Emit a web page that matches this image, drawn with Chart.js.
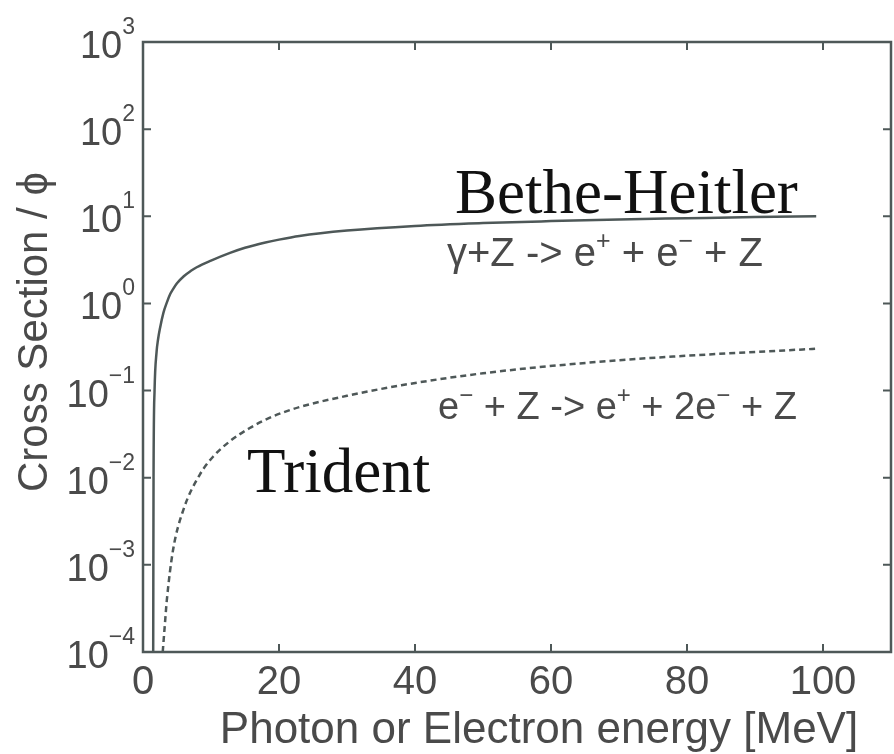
<!DOCTYPE html>
<html>
<head>
<meta charset="utf-8">
<title>Cross Section vs Energy</title>
<script src="https://cdn.jsdelivr.net/npm/chart.js@4.4.1/dist/chart.umd.min.js"></script>
<style>
    body { margin: 0; background: #ffffff; }
    #chart_box { width: 894px; height: 754px; }
</style>
</head>
<body>
<div id="chart_box"><canvas id="xsec_chart"></canvas></div>
<script>
// values (energy in MeV, cross section / phi)
var energyBH = [1.5, 1.55, 1.7, 2.0, 2.2, 2.5, 3.0, 3.5, 4.0, 4.4, 5, 6, 7, 7.9, 10, 12.8, 15, 18, 20, 23, 30, 40, 50, 60, 70, 80, 90, 99];
var sigmaBH = [1e-4, 0.01, 0.1, 0.28, 0.38, 0.52, 0.78, 1.02, 1.28, 1.45, 1.7, 2.05, 2.35, 2.6, 3.1, 3.8, 4.35, 5.0, 5.4, 5.95, 6.85, 7.75, 8.35, 8.8, 9.2, 9.5, 9.8, 10];
var energyTrident = [2.9, 3.2, 3.5, 4.4, 5.9, 8.4, 10.3, 12.8, 15.7, 19, 23, 30, 38, 50, 67, 80, 99];
var sigmaTrident = [1e-4, 2e-4, 3.9e-4, 1.45e-3, 4.2e-3, 0.011, 0.0174, 0.0263, 0.0372, 0.0501, 0.0646, 0.087, 0.115, 0.158, 0.214, 0.251, 0.302];
var xTicks = [0, 20, 40, 60, 80, 100];
var yExponents = [3, 2, 1, 0, -1, -2, -3, -4];

var lineColor = "#4e5858";
var textColor = "#4a4a4a";
var sansFont = "'Liberation Sans', Arial, sans-serif";
var serifFont = "'Liberation Serif', 'Times New Roman', serif";

function toPoints(xs, ys) {
    var pts = [];
    for (var i = 0; i < xs.length; i++) pts.push({x: xs[i], y: ys[i]});
    return pts;
}

// draws text made of [string, isSuperscript] pieces, left aligned
function drawRich(ctx, parts, x, y, size) {
    var cx = x;
    for (var i = 0; i < parts.length; i++) {
        var sup = parts[i][1];
        ctx.font = (sup ? Math.round(size * 0.62) : size) + "px " + sansFont;
        ctx.fillText(parts[i][0], cx, sup ? y - size * 0.42 : y);
        cx += ctx.measureText(parts[i][0]).width;
    }
}

function expLabel(e) {
    return e < 0 ? "\u2212" + (-e) : String(e);
}

var frameAndText = {
    id: "frameAndText",
    afterDraw: function (chart) {
        var ctx = chart.ctx;
        var area = chart.chartArea;
        var xs = chart.scales.x;
        var ys = chart.scales.y;
        var i, px, py;

        ctx.save();
        ctx.strokeStyle = lineColor;
        ctx.lineWidth = 2.5;
        ctx.strokeRect(area.left, area.top, area.right - area.left, area.bottom - area.top);

        //inward tick marks on all four sides
        ctx.lineWidth = 2;
        ctx.beginPath();
        for (i = 0; i < xTicks.length; i++) {
            px = xs.getPixelForValue(xTicks[i]);
            ctx.moveTo(px, area.bottom); ctx.lineTo(px, area.bottom - 8);
            ctx.moveTo(px, area.top); ctx.lineTo(px, area.top + 8);
        }
        for (i = 0; i < yExponents.length; i++) {
            py = ys.getPixelForValue(Math.pow(10, yExponents[i]));
            ctx.moveTo(area.left, py); ctx.lineTo(area.left + 8, py);
            ctx.moveTo(area.right, py); ctx.lineTo(area.right - 8, py);
        }
        ctx.stroke();

        ctx.fillStyle = textColor;

        //x tick labels
        ctx.font = "40px " + sansFont;
        ctx.textAlign = "center";
        ctx.textBaseline = "alphabetic";
        for (i = 0; i < xTicks.length; i++) {
            px = xs.getPixelForValue(xTicks[i]);
            ctx.fillText(String(xTicks[i]), px, area.bottom + 42);
        }

        //y tick labels 10^n
        ctx.textAlign = "left";
        for (i = 0; i < yExponents.length; i++) {
            py = ys.getPixelForValue(Math.pow(10, yExponents[i]));
            var ex = expLabel(yExponents[i]);
            ctx.font = "23px " + sansFont;
            var ew = ctx.measureText(ex).width;
            ctx.font = "38px " + sansFont;
            var bw = ctx.measureText("10").width;
            var x0 = area.left - 8 - ew - bw;
            ctx.fillText("10", x0, py + 16);
            ctx.font = "23px " + sansFont;
            ctx.fillText(ex, x0 + bw, py - 8);
        }

        //axis titles
        ctx.font = "44px " + sansFont;
        ctx.textAlign = "center";
        ctx.fillText("Photon or Electron energy [MeV]", 539, 743);
        ctx.save();
        ctx.translate(47, 332);
        ctx.rotate(-Math.PI / 2);
        ctx.font = "42px " + sansFont;
        ctx.fillText("Cross Section / \u03d5", 0, 0);
        ctx.restore();

        //reaction labels
        ctx.textAlign = "left";
        drawRich(ctx, [["\u03b3+Z -> e", false], ["+", true], [" + e", false], ["\u2212", true], [" + Z", false]], 447, 266, 40);
        drawRich(ctx, [["e", false], ["\u2212", true], [" + Z -> e", false], ["+", true], [" + 2e", false], ["\u2212", true], [" + Z", false]], 438, 419, 38);

        //process names
        ctx.fillStyle = "#111111";
        ctx.font = "63px " + serifFont;
        ctx.fillText("Bethe-Heitler", 455, 213);
        ctx.fillText("Trident", 247, 492);
        ctx.restore();
    }
};

var canvas = document.getElementById("xsec_chart");

var data = {
    datasets: [{
        label: "Bethe-Heitler",
        data: toPoints(energyBH, sigmaBH),
        borderColor: lineColor,
        borderWidth: 2.5,
        pointRadius: 0,
        fill: false,
        cubicInterpolationMode: "monotone"
    }, {
        label: "Trident",
        data: toPoints(energyTrident, sigmaTrident),
        borderColor: lineColor,
        borderWidth: 2.5,
        borderDash: [6, 4],
        pointRadius: 0,
        fill: false,
        cubicInterpolationMode: "monotone"
    }]
};

var options = {
    responsive: true,
    maintainAspectRatio: false,
    animation: false,
    layout: {
        padding: {left: 143, right: 3, top: 42, bottom: 102}
    },
    plugins: {
        legend: {display: false},
        tooltip: {enabled: false}
    },
    scales: {
        x: {
            type: "linear",
            min: 0,
            max: 110,
            grid: {display: false, drawTicks: false},
            border: {display: false},
            ticks: {display: false}
        },
        y: {
            type: "logarithmic",
            min: 1e-4,
            max: 1e3,
            grid: {display: false, drawTicks: false},
            border: {display: false},
            ticks: {display: false}
        }
    }
};

var chart = new Chart(canvas, {
    type: "line",
    data: data,
    options: options,
    plugins: [frameAndText]
});
</script>
</body>
</html>
